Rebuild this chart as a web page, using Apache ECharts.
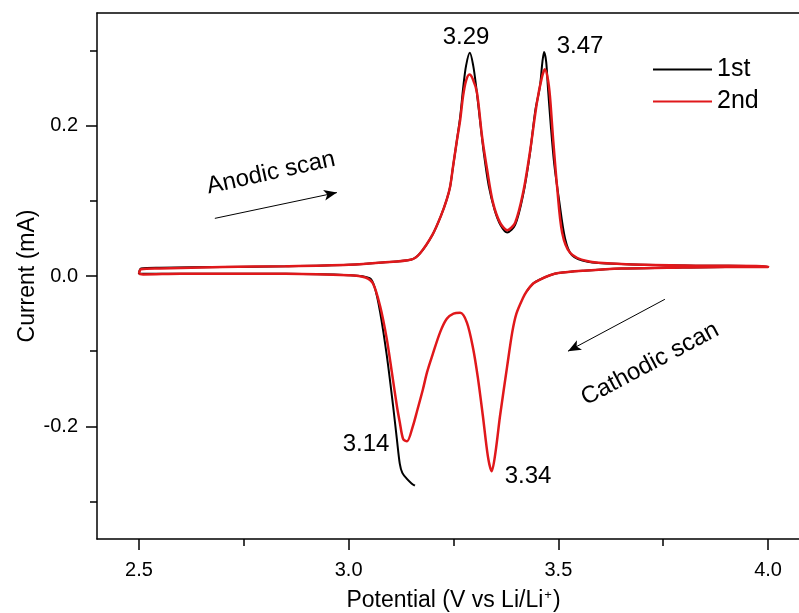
<!DOCTYPE html>
<html>
<head>
<meta charset="utf-8">
<script src="https://cdn.jsdelivr.net/npm/echarts@6/dist/echarts.min.js"></script>
<style>
  html, body { margin: 0; padding: 0; background: #fff; }
  #cv { width: 799px; height: 613px; }
</style>
</head>
<body>
<div id="cv"></div>
<script>
// potential (V), current (mA)
var scan1Start = [[3.158,-0.279],[3.150,-0.276],[3.139,-0.270],[3.128,-0.262],[3.122,-0.250],[3.115,-0.217],[3.106,-0.173],[3.091,-0.106],[3.075,-0.048],[3.062,-0.015],[3.050,-0.003],[3.00,0.001],[2.85,0.003],[2.60,0.003],[2.50,0.003]];
var scan1Anodic = [[2.50,0.003],[2.505,0.010],[2.55,0.011],[2.70,0.012],[2.85,0.013],[3.00,0.015],[3.08,0.018],[3.15,0.022],[3.17,0.030],[3.20,0.055],[3.22,0.080],[3.234,0.102],[3.242,0.119],[3.249,0.146],[3.258,0.180],[3.266,0.212],[3.273,0.250],[3.280,0.280],[3.289,0.297],[3.297,0.280],[3.304,0.252],[3.313,0.208],[3.322,0.165],[3.334,0.120],[3.348,0.088],[3.362,0.068],[3.378,0.058],[3.397,0.068],[3.416,0.108],[3.432,0.162],[3.445,0.220],[3.456,0.252],[3.462,0.285],[3.466,0.298],[3.471,0.285],[3.475,0.252],[3.482,0.200],[3.490,0.150],[3.502,0.100],[3.516,0.050],[3.532,0.028],[3.57,0.019],[3.65,0.016],[3.80,0.014],[4.00,0.013]];
var scan1Cathodic = [[4.00,0.012],[3.90,0.012],[3.76,0.011],[3.65,0.010],[3.56,0.007],[3.50,0.004],[3.48,0.001],[3.455,-0.005],[3.44,-0.010],[3.425,-0.020]];

var scan2Anodic = [[2.50,0.003],[2.505,0.009],[2.55,0.010],[2.70,0.012],[2.85,0.013],[3.00,0.015],[3.08,0.018],[3.15,0.022],[3.17,0.030],[3.20,0.055],[3.22,0.080],[3.234,0.102],[3.242,0.119],[3.249,0.146],[3.258,0.180],[3.266,0.208],[3.273,0.240],[3.280,0.260],[3.288,0.268],[3.296,0.262],[3.306,0.244],[3.318,0.186],[3.330,0.142],[3.344,0.098],[3.361,0.071],[3.378,0.061],[3.397,0.071],[3.416,0.111],[3.432,0.164],[3.449,0.231],[3.461,0.265],[3.468,0.275],[3.475,0.262],[3.480,0.239],[3.487,0.186],[3.497,0.119],[3.509,0.058],[3.528,0.031],[3.568,0.020],[3.65,0.016],[3.80,0.014],[4.00,0.013]];
var scan2Cathodic = [[4.00,0.012],[3.90,0.012],[3.76,0.011],[3.65,0.010],[3.56,0.007],[3.50,0.004],[3.48,0.001],[3.455,-0.005],[3.44,-0.010],[3.425,-0.020],[3.415,-0.030],[3.400,-0.050],[3.390,-0.075],[3.378,-0.120],[3.361,-0.186],[3.350,-0.235],[3.341,-0.260],[3.332,-0.240],[3.320,-0.186],[3.308,-0.135],[3.297,-0.097],[3.282,-0.062],[3.266,-0.049],[3.250,-0.050],[3.234,-0.057],[3.218,-0.075],[3.200,-0.105],[3.187,-0.128],[3.177,-0.151],[3.163,-0.180],[3.153,-0.200],[3.139,-0.220],[3.130,-0.217],[3.122,-0.195],[3.115,-0.173],[3.103,-0.128],[3.091,-0.084],[3.075,-0.040],[3.058,-0.010],[3.040,-0.002],[3.00,0.001],[2.85,0.003],[2.60,0.003],[2.51,0.002],[2.50,0.003]];

var xTicks = [2.5, 3.0, 3.5, 4.0];
var xMinorTicks = [2.75, 3.25, 3.75];
var yTicks = [-0.2, 0.0, 0.2];
var yMinorTicks = [-0.3, -0.1, 0.1, 0.3];

// arrow annotations [from, to] in data units
var anodicArrow = [[2.681, 0.0767], [2.972, 0.111]];
var cathodicArrow = [[3.754, -0.031], [3.523, -0.100]];

var FONT = 'Liberation Sans, Arial, sans-serif';

var chart = echarts.init(document.getElementById('cv'));

function txt(text, x, y, size, rot) {
  return {
    type: 'text', x: x, y: y, rotation: (rot || 0) * Math.PI / 180, silent: true,
    style: {
      text: text, fill: '#000', fontSize: size, fontFamily: FONT,
      align: 'center', verticalAlign: 'middle',
      textAlign: 'center', textVerticalAlign: 'middle'
    }
  };
}

var axisLineStyle = { color: '#000', width: 1.5 };

var option = {
  backgroundColor: '#fff',
  animation: false,
  grid: {
    left: 97, top: 13, width: 713, height: 526,
    outerBoundsMode: 'none'
  },
  legend: {
    orient: 'vertical', left: 648, top: 52,
    itemWidth: 59, itemHeight: 2, itemGap: 7,
    textStyle: { fontSize: 25, fontFamily: FONT, color: '#000', lineHeight: 25 },
    data: [{ name: '1st', icon: 'rect' }, { name: '2nd', icon: 'rect' }]
  },
  xAxis: [{
    type: 'value', min: 2.4, max: 4.1, position: 'bottom',
    axisLine: { onZero: false, lineStyle: axisLineStyle },
    axisTick: { customValues: xTicks, length: 11, lineStyle: axisLineStyle },
    axisLabel: {
      customValues: xTicks, fontSize: 20, fontFamily: FONT, color: '#000', margin: 21,
      formatter: function (v) { return v.toFixed(1); }
    },
    splitLine: { show: false },
    name: 'Potential (V vs Li/Li{sup|+})',
    nameLocation: 'middle', nameGap: 50,
    nameTextStyle: {
      fontSize: 23, fontFamily: FONT, color: '#000',
      rich: { sup: { fontSize: 13, fontFamily: FONT, color: '#000', verticalAlign: 'top', padding: [0, 1, 10, 1] } }
    }
  }, {
    type: 'value', min: 2.4, max: 4.1, position: 'bottom',
    axisLine: { show: false, onZero: false },
    axisTick: { customValues: xMinorTicks, length: 7, lineStyle: axisLineStyle },
    axisLabel: { show: false },
    splitLine: { show: false }
  }, {
    // frame line along the top
    type: 'value', min: 2.4, max: 4.1, position: 'top',
    axisLine: { onZero: false, lineStyle: axisLineStyle },
    axisTick: { show: false },
    axisLabel: { show: false },
    splitLine: { show: false }
  }],
  yAxis: [{
    type: 'value', min: -0.35, max: 0.35, position: 'left',
    axisLine: { onZero: false, lineStyle: axisLineStyle },
    axisTick: { customValues: yTicks, length: 11, lineStyle: axisLineStyle },
    axisLabel: {
      customValues: yTicks, fontSize: 20, fontFamily: FONT, color: '#000', margin: 19,
      formatter: function (v) { return v.toFixed(1); }
    },
    splitLine: { show: false },
    name: 'Current (mA)',
    nameLocation: 'middle', nameGap: 58, nameMoveOverlap: false,
    nameTextStyle: { fontSize: 23, fontFamily: FONT, color: '#000' }
  }, {
    type: 'value', min: -0.35, max: 0.35, position: 'left',
    axisLine: { show: false, onZero: false },
    axisTick: { customValues: yMinorTicks, length: 7, lineStyle: axisLineStyle },
    axisLabel: { show: false },
    splitLine: { show: false }
  }],
  series: [{
    name: '1st', type: 'line', smooth: 0.3, showSymbol: false, symbol: 'none',
    xAxisIndex: 0, yAxisIndex: 0,
    lineStyle: { color: '#000', width: 2 }, itemStyle: { color: '#000' },
    data: scan1Start.concat(scan1Anodic, scan1Cathodic)
  }, {
    name: '2nd', type: 'line', smooth: 0.3, showSymbol: false, symbol: 'none',
    xAxisIndex: 0, yAxisIndex: 0,
    lineStyle: { color: '#e0181b', width: 2.5 }, itemStyle: { color: '#e0181b' },
    data: scan2Anodic.concat(scan2Cathodic),
    markLine: {
      silent: true, symbol: ['none', 'arrow'], symbolSize: [8, 13],
      label: { show: false },
      lineStyle: { color: '#000', width: 1, type: 'solid' },
      data: [
        [{ coord: anodicArrow[0] }, { coord: anodicArrow[1] }],
        [{ coord: cathodicArrow[0] }, { coord: cathodicArrow[1] }]
      ]
    }
  }],
  graphic: [
    txt('3.29', 466, 37, 24),
    txt('3.47', 580, 46, 24),
    txt('3.14', 366, 444, 24),
    txt('3.34', 528, 476, 24),
    txt('Anodic scan', 271, 173, 24, 12.5),
    txt('Cathodic scan', 650, 364, 24, 28)
  ]
};

chart.setOption(option);
</script>
</body>
</html>
